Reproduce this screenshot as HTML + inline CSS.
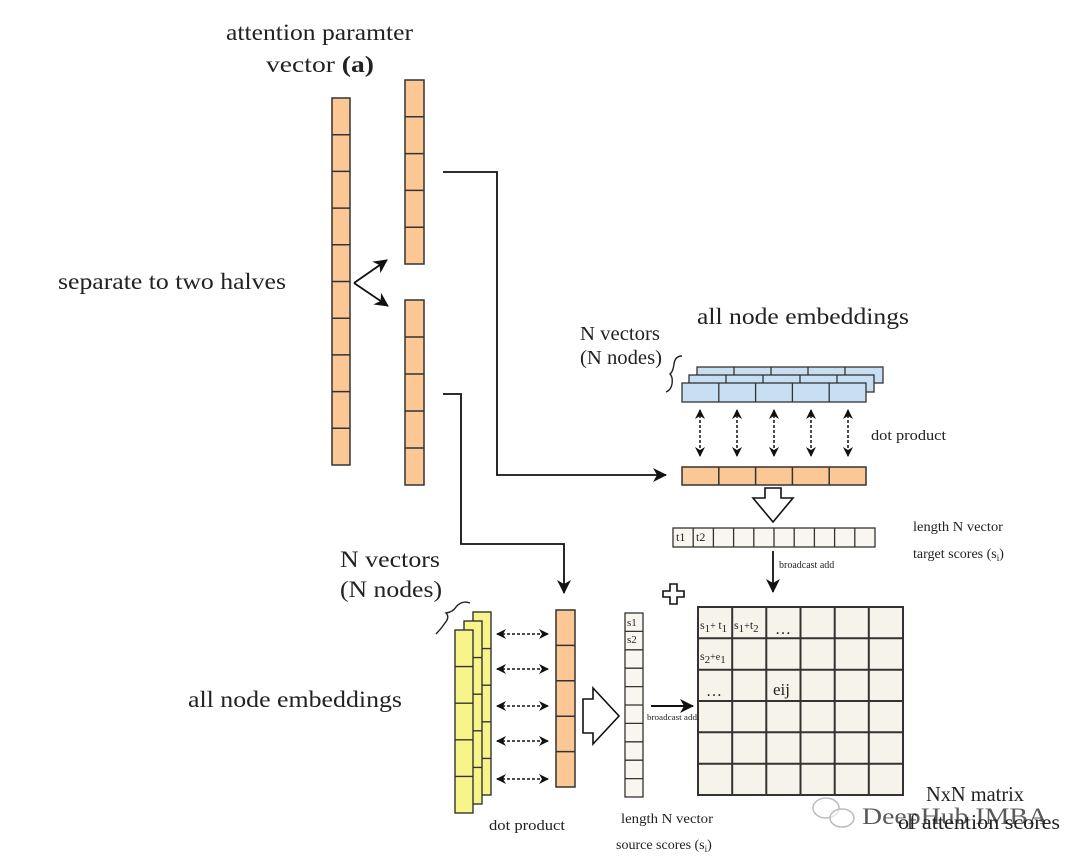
<!DOCTYPE html>
<html><head><meta charset="utf-8"><style>
html,body{margin:0;padding:0;background:#fff;}
svg{display:block;}
text{font-family:"Liberation Serif",serif;fill:#222;}
</style></head><body>
<svg width="1080" height="865" viewBox="0 0 1080 865" xmlns="http://www.w3.org/2000/svg">
<defs>
<marker id="ah" markerWidth="14" markerHeight="14" refX="13" refY="7" orient="auto" markerUnits="userSpaceOnUse"><path d="M0,0 L14,7 L0,14 L4,7 z" fill="#111"/></marker>
<marker id="ahs" markerWidth="10" markerHeight="10" refX="9" refY="5" orient="auto-start-reverse" markerUnits="userSpaceOnUse"><path d="M0,0 L10,5 L0,10 L3,5 z" fill="#111"/></marker>
</defs>

<!-- titles -->
<text x="226" y="40" font-size="23" textLength="187" lengthAdjust="spacingAndGlyphs">attention paramter</text>
<text x="266" y="72" font-size="23" textLength="108" lengthAdjust="spacingAndGlyphs">vector <tspan font-weight="bold">(a)</tspan></text>
<text x="58" y="289" font-size="23" textLength="228" lengthAdjust="spacingAndGlyphs">separate to two halves</text>

<!-- left vector -->
<g stroke="#333" stroke-width="1.5" fill="#fbc895">
<rect x="332" y="98" width="18" height="367"/>
<path d="M332 134.7h18M332 171.4h18M332 208.1h18M332 244.8h18M332 281.5h18M332 318.2h18M332 354.9h18M332 391.6h18M332 428.3h18"/>
<rect x="405" y="80" width="19" height="184"/>
<path d="M405 116.8h19M405 153.6h19M405 190.4h19M405 227.2h19"/>
<rect x="405" y="300" width="19" height="185"/>
<path d="M405 337h19M405 374h19M405 411h19M405 448h19"/>
</g>
<g stroke="#111" stroke-width="1.8" fill="none">
<line x1="354" y1="283" x2="387" y2="260" marker-end="url(#ah)"/>
<line x1="354" y1="283" x2="388" y2="306" marker-end="url(#ah)"/>
<polyline points="443,172 497,172 497,475 666,475" marker-end="url(#ah)"/>
<polyline points="443,394 461,394 461,544 564,544 564,593" marker-end="url(#ah)"/>
</g>

<!-- top embeddings -->
<text x="697" y="324" font-size="23" textLength="212" lengthAdjust="spacingAndGlyphs">all node embeddings</text>
<text x="580" y="340" font-size="20" textLength="80" lengthAdjust="spacingAndGlyphs">N vectors</text>
<text x="580" y="364" font-size="20" textLength="82" lengthAdjust="spacingAndGlyphs">(N nodes)</text>
<path d="M682 356 q-7 0 -8 8 q-1 8 -4 10 q3 3 2 10 q-1 6 -6 8" stroke="#222" fill="none" stroke-width="1.4"/>
<g stroke="#333" stroke-width="1.3" fill="#c8def2">
<rect x="697" y="367" width="186" height="16"/>
<path d="M734 367v16M771 367v16M808 367v16M845 367v16"/>
<rect x="689" y="375" width="185" height="17"/>
<path d="M726 375v17M763 375v17M800 375v17M837 375v17"/>
<rect x="682" y="383" width="184" height="19"/>
<path d="M718.8 383v19M755.6 383v19M792.4 383v19M829.2 383v19"/>
</g>
<g stroke="#111" stroke-width="1.5" stroke-dasharray="3,2" fill="none">
<line x1="700" y1="410" x2="700" y2="456" marker-start="url(#ahs)" marker-end="url(#ahs)"/>
<line x1="737" y1="410" x2="737" y2="456" marker-start="url(#ahs)" marker-end="url(#ahs)"/>
<line x1="774" y1="410" x2="774" y2="456" marker-start="url(#ahs)" marker-end="url(#ahs)"/>
<line x1="811" y1="410" x2="811" y2="456" marker-start="url(#ahs)" marker-end="url(#ahs)"/>
<line x1="848" y1="410" x2="848" y2="456" marker-start="url(#ahs)" marker-end="url(#ahs)"/>
</g>
<text x="871" y="440" font-size="15" textLength="75" lengthAdjust="spacingAndGlyphs">dot product</text>
<g stroke="#333" stroke-width="1.5" fill="#fbc895">
<rect x="682" y="467" width="184" height="18"/>
<path d="M718.8 467v18M755.6 467v18M792.4 467v18M829.2 467v18"/>
</g>
<path d="M765 488 h16 v10 h12 l-20 24 l-20 -24 h12 z" fill="#fff" stroke="#111" stroke-width="1.6"/>
<g stroke="#333" stroke-width="1.3" fill="#f8f6ee">
<rect x="673" y="528" width="202" height="19"/>
<path d="M693.2 528v19M713.4 528v19M733.6 528v19M753.8 528v19M774 528v19M794.2 528v19M814.4 528v19M834.6 528v19M854.8 528v19"/>
</g>
<text x="676" y="541" font-size="12" font-family="Liberation Sans,sans-serif">t1</text>
<text x="696" y="541" font-size="12" font-family="Liberation Sans,sans-serif">t2</text>
<text x="913" y="531" font-size="14" textLength="90" lengthAdjust="spacingAndGlyphs">length N vector</text>
<text x="913" y="558" font-size="14">target scores (s<tspan font-size="9" dy="3">i</tspan><tspan dy="-3">)</tspan></text>
<line x1="773" y1="551" x2="773" y2="592" stroke="#111" stroke-width="1.8" marker-end="url(#ah)"/>
<text x="779" y="568" font-size="10">broadcast add</text>

<!-- plus -->
<path d="M670 584h7v7h7v6h-7v7h-7v-7h-7v-6h7z" fill="#fff" stroke="#111" stroke-width="1.6"/>

<!-- bottom left -->
<text x="340" y="567" font-size="23" textLength="100" lengthAdjust="spacingAndGlyphs">N vectors</text>
<text x="340" y="597" font-size="23" textLength="102" lengthAdjust="spacingAndGlyphs">(N nodes)</text>
<path d="M470 603 q-8 -3 -14 4 q-3 5 -10 6 q4 4 -1 10 q-4 6 -9 11" stroke="#222" fill="none" stroke-width="1.4"/>
<text x="188" y="707" font-size="23" textLength="214" lengthAdjust="spacingAndGlyphs">all node embeddings</text>
<g stroke="#333" stroke-width="1.4" fill="#f7f58a">
<rect x="473" y="612" width="18" height="183"/>
<path d="M473 648.6h18M473 685.2h18M473 721.8h18M473 758.4h18"/>
<rect x="464" y="621" width="18" height="183"/>
<path d="M464 657.6h18M464 694.2h18M464 730.8h18M464 767.4h18"/>
<rect x="455" y="630" width="18" height="183"/>
<path d="M455 666.6h18M455 703.2h18M455 739.8h18M455 776.4h18"/>
</g>
<g stroke="#111" stroke-width="1.5" stroke-dasharray="3,2" fill="none">
<line x1="497" y1="634" x2="548" y2="634" marker-start="url(#ahs)" marker-end="url(#ahs)"/>
<line x1="497" y1="669" x2="548" y2="669" marker-start="url(#ahs)" marker-end="url(#ahs)"/>
<line x1="497" y1="706" x2="548" y2="706" marker-start="url(#ahs)" marker-end="url(#ahs)"/>
<line x1="497" y1="741" x2="548" y2="741" marker-start="url(#ahs)" marker-end="url(#ahs)"/>
<line x1="497" y1="779" x2="548" y2="779" marker-start="url(#ahs)" marker-end="url(#ahs)"/>
</g>
<text x="489" y="830" font-size="15" textLength="76" lengthAdjust="spacingAndGlyphs">dot product</text>
<g stroke="#333" stroke-width="1.5" fill="#fbc895">
<rect x="556" y="610" width="19" height="177"/>
<path d="M556 645.4h19M556 680.8h19M556 716.2h19M556 751.6h19"/>
</g>
<path d="M583 699 h10 v-11 l26 28 l-26 28 v-11 h-10 z" fill="#fff" stroke="#111" stroke-width="1.6"/>
<g stroke="#333" stroke-width="1.3" fill="#f8f6ee">
<rect x="625" y="613" width="18" height="184"/>
<path d="M625 631.4h18M625 649.8h18M625 668.2h18M625 686.6h18M625 705h18M625 723.4h18M625 741.8h18M625 760.2h18M625 778.6h18"/>
</g>
<text x="627" y="626" font-size="11" font-family="Liberation Sans,sans-serif">s1</text>
<text x="627" y="643" font-size="11" font-family="Liberation Sans,sans-serif">s2</text>
<line x1="651" y1="706" x2="693" y2="706" stroke="#111" stroke-width="2" marker-end="url(#ah)"/>
<text x="647" y="720" font-size="8.5" textLength="50" lengthAdjust="spacingAndGlyphs">broadcast add</text>
<text x="621" y="823" font-size="14" textLength="92" lengthAdjust="spacingAndGlyphs">length N vector</text>
<text x="616" y="849" font-size="14">source scores (s<tspan font-size="9" dy="3">i</tspan><tspan dy="-3">)</tspan></text>

<!-- matrix -->
<g stroke="#333" stroke-width="2" fill="#f6f4ea">
<rect x="698" y="607" width="205" height="188"/>
<path d="M732.2 607v188M766.3 607v188M800.5 607v188M834.7 607v188M868.8 607v188M698 638.3h205M698 669.7h205M698 701h205M698 732.3h205M698 763.7h205" fill="none"/>
</g>
<g font-family="Liberation Sans,sans-serif" fill="#333">
<text x="700" y="629" font-size="12">s<tspan font-size="11" dy="3">1</tspan><tspan dy="-3" font-size="10">+ </tspan><tspan font-size="12">t</tspan><tspan font-size="11" dy="3">1</tspan></text>
<text x="734" y="629" font-size="12">s<tspan font-size="11" dy="3">1</tspan><tspan dy="-3" font-size="10">+</tspan><tspan font-size="12">t</tspan><tspan font-size="11" dy="3">2</tspan></text>
<text x="775" y="634" font-size="16">…</text>
<text x="700" y="660" font-size="12">s<tspan font-size="11" dy="3">2</tspan><tspan dy="-3" font-size="10">+e</tspan><tspan font-size="11" dy="3">1</tspan></text>
<text x="706" y="696" font-size="16">…</text>
<text x="773" y="695" font-size="17">eij</text>
</g>
<text x="926" y="801" font-size="21" textLength="98" lengthAdjust="spacingAndGlyphs">NxN matrix</text>
<text x="898" y="829" font-size="21" textLength="162" lengthAdjust="spacingAndGlyphs">of attention scores</text>
<text x="862" y="824" font-size="23" fill="#bbb" font-family="Liberation Sans,sans-serif" opacity="0.75" textLength="186" lengthAdjust="spacingAndGlyphs">DeepHub IMBA</text>
<g fill="#fff" fill-opacity="0.6" stroke="#bbb" stroke-width="1.5"><ellipse cx="826" cy="808" rx="13" ry="10"/><ellipse cx="842" cy="818" rx="12" ry="9"/></g>
</svg>
</body></html>
